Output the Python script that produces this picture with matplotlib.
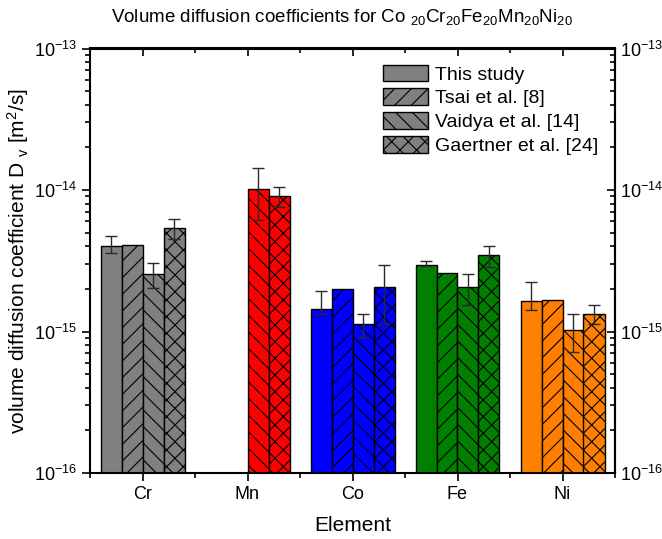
import numpy as np
import matplotlib
matplotlib.use('Agg')
import matplotlib.pyplot as plt
from matplotlib.ticker import LogLocator, FixedLocator, NullFormatter
from matplotlib.patches import Patch

plt.rcParams['font.family'] = ['Liberation Sans', 'DejaVu Sans']
plt.rcParams['mathtext.fontset'] = 'custom'
plt.rcParams['mathtext.rm'] = 'Liberation Sans'
plt.rcParams['mathtext.it'] = 'Liberation Sans:italic'
plt.rcParams['hatch.linewidth'] = 0.8

elements = ['Cr', 'Mn', 'Co', 'Fe', 'Ni']
colors = ['#808080', '#ff0000', '#0000ff', '#007f00', '#ff8000']
series = ['This study', 'Tsai et al. [8]', 'Vaidya et al. [14]', 'Gaertner et al. [24]']
hatches = ['', '//', '\\\\', 'xx']

# values in m^2/s, nan = no data
this_study = [4.04e-15, np.nan, 1.43e-15, 2.95e-15, 1.63e-15]
tsai = [4.10e-15, np.nan, 2.00e-15, 2.56e-15, 1.66e-15]
vaidya = [2.55e-15, 1.02e-14, 1.12e-15, 2.05e-15, 1.02e-15]
gaertner = [5.40e-15, 9.0e-15, 2.05e-15, 3.45e-15, 1.32e-15]

# error bar ends (low, high)
this_lo = [3.57e-15, np.nan, 1.32e-15, 2.89e-15, 1.42e-15]
this_hi = [4.75e-15, np.nan, 1.93e-15, 3.16e-15, 2.23e-15]
vaidya_lo = [2.04e-15, 6.1e-15, 9.1e-16, 1.53e-15, 7.2e-16]
vaidya_hi = [3.05e-15, 1.42e-14, 1.32e-15, 2.55e-15, 1.32e-15]
gaertner_lo = [4.48e-15, 7.55e-15, 1.13e-15, 2.84e-15, 1.13e-15]
gaertner_hi = [6.27e-15, 1.055e-14, 2.95e-15, 4.04e-15, 1.53e-15]

vals = [this_study, tsai, vaidya, gaertner]
errs = [(this_lo, this_hi), None, (vaidya_lo, vaidya_hi), (gaertner_lo, gaertner_hi)]
offsets = [-0.3, -0.1, 0.1, 0.3]
width = 0.2

fig = plt.figure(figsize=(6.62, 5.39), dpi=100)
ax = fig.add_axes([90/662, 1-473/539, 525/662, 424.5/539])
ax.set_yscale('log')

x = np.arange(1, 6)
for s in range(4):
    v = np.array(vals[s])
    for i in range(5):
        if np.isnan(v[i]):
            continue
        ax.bar(x[i] + offsets[s], v[i], width, bottom=1e-17, color=colors[i],
               edgecolor='black', linewidth=1.0, hatch=hatches[s], zorder=2)
    if errs[s] is not None:
        lo = np.array(errs[s][0]); hi = np.array(errs[s][1])
        m = ~np.isnan(v)
        ax.errorbar(x[m] + offsets[s], v[m], yerr=[v[m]-lo[m], hi[m]-v[m]],
                    fmt='none', ecolor='#2a2a2a', elinewidth=1.0, capsize=4,
                    capthick=1.0, zorder=3)

ax.set_xlim(0.5, 5.5)
ax.set_ylim(1e-16, 1e-13)
ax.set_xticks(x)
ax.set_xticklabels(elements, fontsize=13)
ax.xaxis.set_minor_locator(FixedLocator(np.arange(0.5, 6, 1.0)))
ax.yaxis.set_major_locator(LogLocator(base=10, numticks=10))
ax.yaxis.set_minor_locator(LogLocator(base=10, subs=np.arange(2, 10), numticks=20))
ax.yaxis.set_minor_formatter(NullFormatter())
ax.tick_params(which='major', direction='out', length=6, width=1.2, labelsize=13)
ax.tick_params(which='minor', direction='out', length=3.5, width=1.2)
for sp in ax.spines.values():
    sp.set_linewidth(1.5)

# mirrored axes on top and right
top = ax.secondary_xaxis('top')
top.set_xticks(x)
top.set_xticklabels([])
top.xaxis.set_minor_locator(FixedLocator(np.arange(0.5, 6, 1.0)))
top.tick_params(which='major', direction='in', length=6, width=1.2)
top.tick_params(which='minor', direction='in', length=3.5, width=1.2)
top.spines['top'].set_linewidth(1.5)

right = ax.secondary_yaxis('right')
right.yaxis.set_major_locator(LogLocator(base=10, numticks=10))
right.yaxis.set_minor_locator(LogLocator(base=10, subs=np.arange(2, 10), numticks=20))
right.yaxis.set_minor_formatter(NullFormatter())
right.tick_params(which='major', direction='in', length=6, width=1.2, labelsize=13)
right.tick_params(which='minor', direction='in', length=3.5, width=1.2)
right.spines['right'].set_linewidth(1.5)

ax.set_xlabel('Element', fontsize=15, labelpad=9)
ax.set_ylabel(r'volume diffusion coefficient D $_{\mathrm{v}}$ [m$^2$/s]', fontsize=15, labelpad=2)
ax.set_title(r'Volume diffusion coefficients for Co $_{20}$Cr$_{20}$Fe$_{20}$Mn$_{20}$Ni$_{20}$',
             fontsize=13.5, pad=19, x=0.48)

handles = [Patch(facecolor='#808080', edgecolor='black', hatch=h, linewidth=1.0) for h in hatches]
ax.legend(handles, series, loc='upper left', bbox_to_anchor=(0.559, 0.962), frameon=False,
          fontsize=14, handlelength=2.3, handleheight=0.95, handletextpad=0.35,
          labelspacing=0.24, borderaxespad=0.0, borderpad=0.0)

fig.savefig('out.png', dpi=100)
